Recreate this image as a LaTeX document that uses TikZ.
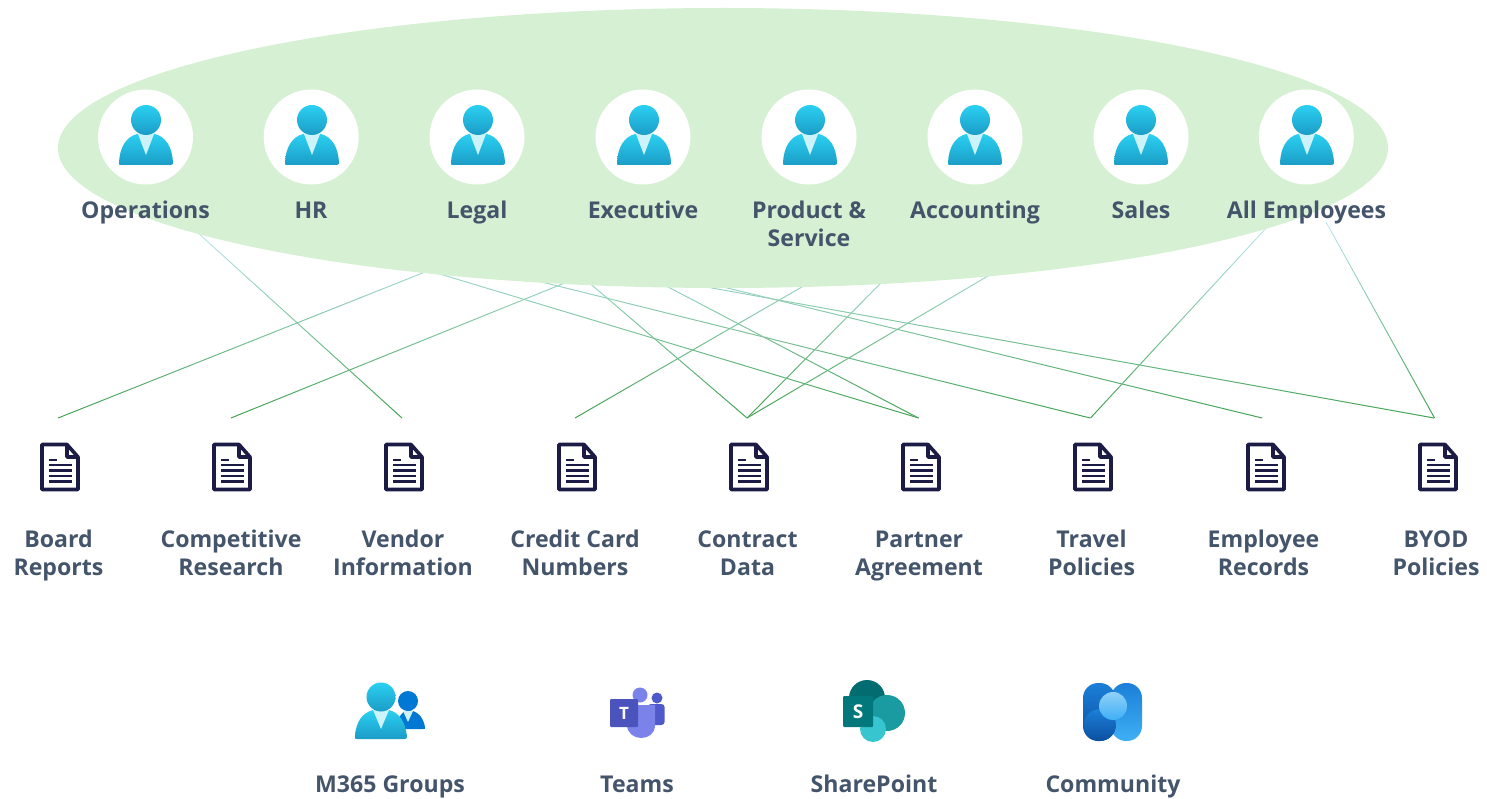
\documentclass[tikz,border=0pt]{standalone}
\usepackage{fontspec}
\setmainfont{Open Sans}
\usetikzlibrary{fadings}
\tikzfading[name=lnfade,top color=transparent!100,middle color=transparent!75,bottom color=transparent!0]
\definecolor{txt}{HTML}{44546A}
\definecolor{blob}{HTML}{D6F0D3}
\definecolor{lnTop}{HTML}{BDE8F0}
\definecolor{lnBot}{HTML}{43A047}
\definecolor{docc}{HTML}{1B1B45}
\definecolor{skyT}{HTML}{2BD0F2}
\definecolor{skyB}{HTML}{1B9CC6}
\definecolor{skyV}{HTML}{CDF3FA}
\definecolor{azure}{HTML}{0078D4}
\definecolor{tmA}{HTML}{7B83EB}
\definecolor{tmB}{HTML}{5059C9}
\definecolor{tmC}{HTML}{4B53BC}
\definecolor{spA}{HTML}{036C70}
\definecolor{spB}{HTML}{1A9BA1}
\definecolor{spC}{HTML}{37C6D0}
\definecolor{spD}{HTML}{03787C}
\definecolor{cmDark}{HTML}{0B4FA0}
\definecolor{cmMid}{HTML}{1B7FD8}
\definecolor{cmLight}{HTML}{3FB0F5}
\definecolor{cmPale}{HTML}{8FD0F8}
\tikzset{
  lbl/.style={text=txt,font=\fontsize{23.1}{28}\selectfont\bfseries,align=center,inner sep=0pt,anchor=base},
  linkbase/.style={draw=lnTop,line width=0.9pt},
  linktop/.style={draw=lnBot,line width=0.9pt,path fading=lnfade},
  disc/.style={circle,fill=white,minimum size=95pt,inner sep=0pt},
  pics/person/.style={code={
    \path[top color=skyT,bottom color=skyB] (-27,25) .. controls (-26,10) and (-20,0) .. (-9,-3) -- (9,-3) .. controls (20,0) and (26,10) .. (27,25) .. controls (27,27) .. (25,28) -- (-25,28) .. controls (-27,28) .. (-27,25) -- cycle;
    \path[fill=skyV] (-8,-3) -- (0,18) -- (8,-3) -- cycle;
    \path[top color=skyT,bottom color=skyB] (0,-17) circle[radius=15];
  }},
  pics/docicon/.style={code={
    \draw[docc,line width=3.6pt,fill=white,line join=round] (-18,-22.5) -- (7,-22.5) -- (18,-10) -- (18,22.5) -- (-18,22.5) -- cycle;
    \draw[docc,line width=3.6pt,line join=round] (7,-22.5) -- (7,-10) -- (18,-10);
    \draw[docc,line width=2.4pt] (-11,-7) -- (-3,-7);
    \foreach \yy in {-2,3.5,9,14.5} {\draw[docc,line width=2.4pt] (-11,\yy) -- (12,\yy);}
  }},
}
\newcommand{\linkit}[2]{\draw[linkbase] (#1) -- (#2); \draw[linktop] (#1) -- (#2);}
\begin{document}
\begin{tikzpicture}[x=1pt,y=-1pt]
\useasboundingbox (0,0) rectangle (1487,799);
% free ends of connectors above (hidden below the ellipse)
\coordinate (u1) at (525.6,232);
\coordinate (u2) at (691,232);
\coordinate (u3) at (197,232);
\coordinate (u4) at (897,232);
\coordinate (u5) at (530,232);
\coordinate (u6) at (931.6,232);
\coordinate (u7) at (1062.7,232);
\coordinate (u8) at (563,232);
\coordinate (u9) at (300,232);
\coordinate (u10) at (340,232);
\coordinate (u11) at (1268,226);
\coordinate (u12) at (497,232);
\coordinate (u13) at (401,232);
\coordinate (u14) at (1326,222);
% lower ends
\coordinate (d1) at (58,418);
\coordinate (d2) at (231,418);
\coordinate (d3) at (402,418);
\coordinate (d4) at (575,418);
\coordinate (d5) at (747,418);
\coordinate (d6) at (918.5,418);
\coordinate (d7) at (1090.5,418);
\coordinate (d8) at (1262.5,418);
\coordinate (d9) at (1434.5,418);
\linkit{u1}{d1}
\linkit{u2}{d2}
\linkit{u3}{d3}
\linkit{u4}{d4}
\linkit{u5}{d5}
\linkit{u6}{d5}
\linkit{u7}{d5}
\linkit{u8}{d6}
\linkit{u9}{d6}
\linkit{u10}{d7}
\linkit{u11}{d7}
\linkit{u12}{d8}
\linkit{u13}{d9}
\linkit{u14}{d9}
% ellipse
\fill[blob] (723,148) ellipse[x radius=665,y radius=140];
% departments
\foreach \n/\xx/\ix in {p1/145.5/146,p2/311.2/312,p3/477/478,p4/643/644,p5/809/810,p6/975/975,p7/1141/1141,p8/1306.3/1307} {
  \node[disc] (\n) at (\xx,137) {};
  \pic at (\ix,137) {person};
}
\node[lbl] (tp1) at (145.5,219) {Operations};
\node[lbl] (tp2) at (311,219) {HR};
\node[lbl] (tp3) at (477,219) {Legal};
\node[lbl] (tp4) at (643,219) {Executive};
\node[lbl] (tp5) at (809,247) {Product \&\\Service};
\node[lbl] (tp6) at (975,219) {Accounting};
\node[lbl] (tp7) at (1141,219) {Sales};
\node[lbl] (tp8) at (1306.5,219) {All Employees};
% documents
\foreach \xx in {60,232,404,577,749,921,1093,1266,1438} {
  \pic at (\xx,467) {docicon};
}
\node[lbl] (l1) at (58.5,575) {Board\\Reports};
\node[lbl] (l2) at (231,575) {Competitive\\Research};
\node[lbl] (l3) at (403,575) {Vendor\\Information};
\node[lbl] (l4) at (575,575) {Credit Card\\Numbers};
\node[lbl] (l5) at (747.5,575) {Contract\\Data};
\node[lbl] (l6) at (919,575) {Partner\\Agreement};
\node[lbl] (l7) at (1091.5,575) {Travel\\Policies};
\node[lbl] (l8) at (1263.5,575) {Employee\\Records};
\node[lbl] (l9) at (1436,575) {BYOD\\Policies};
% M365 group icon
\path[fill=azure] (397,729) .. controls (398,716) and (402,711) .. (408,710) .. controls (418,711) and (423,717) .. (425,727) .. controls (425,729) .. (423,729) -- cycle;
\path[fill=skyV] (403,711) -- (408,722) -- (413,711) -- cycle;
\path[fill=azure] (408,701) circle[radius=10];
\path[top color=skyT,bottom color=skyB] (355,736) .. controls (356,722) and (362,713) .. (373,710) -- (389,710) .. controls (400,713) and (405,722) .. (407,736) .. controls (407,738) .. (405,739) -- (357,739) .. controls (355,739) .. (355,736) -- cycle;
\path[fill=skyV] (373,710) -- (381,729) -- (389,710) -- cycle;
\path[top color=skyT,bottom color=skyB] (381,697) circle[radius=14.5];
% Teams icon
\path[fill=tmB] (657,698) circle[radius=5.5];
\path[fill=tmB,rounded corners=3pt] (648,704) rectangle (664.5,725);
\path[fill=tmA] (640,695) circle[radius=7.5];
\path[fill=tmA] (627,705) -- (655,705) -- (655,725) .. controls (655,734) and (648,738) .. (641,738) .. controls (634,738) and (627,733) .. (627,725) -- cycle;
\path[fill=tmC,rounded corners=1pt] (610,699) rectangle (638,727);
\node[inner sep=0pt,text=white,font=\fontsize{17}{17}\selectfont\bfseries] (teamsT) at (624,713) {T};
% SharePoint icon
\path[fill=spA] (867,698) circle[radius=18];
\path[fill=spB] (887,713) circle[radius=18];
\path[fill=spC] (873,729) circle[radius=13];
\path[fill=spD,rounded corners=1pt] (843,696) rectangle (873,727);
\node[inner sep=0pt,text=white,font=\fontsize{19}{19}\selectfont\bfseries] (spS) at (858,711.5) {S};
% Community icon
\path[top color=cmMid,bottom color=cmDark,rounded corners=15pt] (1083,683) rectangle (1115,741);
\path[top color=cmMid,bottom color=cmLight,rounded corners=15pt] (1111,683) rectangle (1142,741);
\path[top color=cmMid,bottom color=cmDark] (1100,725) circle[radius=16];
\path[top color=cmPale,bottom color=cmLight] (1113,706) circle[radius=14];
\node[lbl] (b1) at (390,792) {M365 Groups};
\node[lbl] (b2) at (637,792) {Teams};
\node[lbl] (b3) at (874,792) {SharePoint};
\node[lbl] (b4) at (1113,792) {Community};
\end{tikzpicture}
\end{document}
